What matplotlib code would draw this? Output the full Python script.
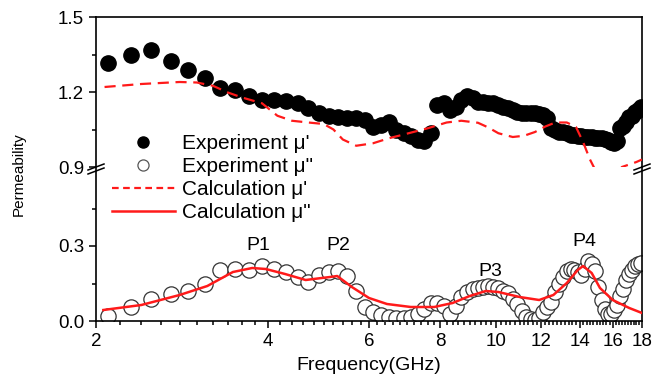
import numpy as np
import matplotlib.pyplot as plt
from matplotlib.lines import Line2D
from matplotlib.ticker import MultipleLocator, FixedLocator, NullFormatter

plt.rcParams['font.family'] = ['Liberation Sans', 'DejaVu Sans']

# measured frequency grid (GHz)
freq = np.round(np.arange(2.1, 17.95, 0.2), 2)

# experiment mu' (top panel)
mu1_exp = [1.315, 1.35, 1.37, 1.325, 1.29, 1.255, 1.215, 1.21, 1.185, 1.17,
           1.17, 1.165, 1.158, 1.138, 1.115, 1.105, 1.10, 1.096, 1.096, 1.09,
           1.06, 1.07, 1.08, 1.05, 1.035, 1.025, 1.01, 1.005, 1.035, 1.15,
           1.155, 1.13, 1.14, 1.17, 1.185, 1.175, 1.16, 1.162, 1.158, 1.155,
           1.148, 1.14, 1.135, 1.128, 1.12, 1.117, 1.115, 1.116, 1.116, 1.114,
           1.11, 1.095, 1.055, 1.048, 1.042, 1.04, 1.035, 1.03, 1.028, 1.026,
           1.024, 1.022, 1.02, 1.02, 1.018, 1.016, 1.016, 1.014, 1.008, 1.0,
           0.998, 1.005, 1.055, 1.065, 1.08, 1.1, 1.105, 1.12, 1.128, 1.14]

# experiment mu'' (bottom panel)
mu2_exp = [0.02, 0.055, 0.09, 0.108, 0.12, 0.15, 0.205, 0.21, 0.205, 0.22,
           0.208, 0.195, 0.178, 0.158, 0.185, 0.198, 0.2, 0.18, 0.12, 0.055,
           0.036, 0.026, 0.018, 0.012, 0.012, 0.016, 0.028, 0.05, 0.072, 0.072,
           0.06, 0.03, 0.06, 0.096, 0.118, 0.128, 0.134, 0.138, 0.14, 0.136,
           0.132, 0.122, 0.112, 0.09, 0.07, 0.04, 0.018, 0.008, 0.004, 0.012,
           0.036, 0.056, 0.076, 0.118, 0.15, 0.176, 0.2, 0.21, 0.205, 0.195,
           0.186, 0.21, 0.24, 0.23, 0.2, 0.136, 0.085, 0.05, 0.03, 0.03,
           0.045, 0.064, 0.1, 0.13, 0.164, 0.19, 0.205, 0.222, 0.23, 0.232]

# calculation mu'
calc1_f = [2.07, 2.4, 2.8, 3.0, 3.2, 3.4, 3.6, 3.9, 4.15, 4.4, 4.7, 5.0, 5.2,
           5.4, 5.7, 6.1, 6.5, 6.9, 7.6, 8.2, 8.7, 9.3, 9.7, 10.1, 10.7, 11.2,
           11.7, 12.2, 12.7, 13.3, 13.8, 14.2, 14.6, 14.9, 15.3, 15.8, 16.2,
           16.6, 17.2, 17.6, 18.0]
calc1 = [1.22, 1.232, 1.24, 1.238, 1.225, 1.198, 1.178, 1.155, 1.105, 1.085,
         1.078, 1.072, 1.05, 1.01, 0.985, 0.995, 1.015, 1.03, 1.055, 1.078,
         1.085, 1.077, 1.058, 1.035, 1.02, 1.025, 1.04, 1.062, 1.078, 1.078,
         1.06, 1.0, 0.93, 0.89, 0.84, 0.82, 0.86, 0.9, 0.912, 0.92, 0.93]

# calculation mu''
calc2_f = [2.06, 2.4, 2.8, 3.13, 3.47, 3.75, 3.96, 4.28, 4.65, 4.96, 5.13,
           5.28, 5.6, 6.0, 6.45, 7.1, 7.8, 8.4, 9.0, 9.6, 10.1, 11.0, 11.9,
           12.6, 13.3, 13.9, 14.2, 14.7, 15.2, 16.0, 17.1, 18.0]
calc2 = [0.044, 0.064, 0.104, 0.14, 0.196, 0.212, 0.208, 0.188, 0.164, 0.172,
         0.176, 0.18, 0.136, 0.092, 0.068, 0.056, 0.056, 0.072, 0.1, 0.12,
         0.116, 0.096, 0.084, 0.104, 0.152, 0.204, 0.22, 0.192, 0.132, 0.084,
         0.052, 0.032]

peaks = ['P1', 'P2', 'P3', 'P4']
peak_f = [3.84, 5.3, 9.77, 14.3]
peak_y = [0.30, 0.30, 0.20, 0.32]

W, H = 654, 376
fig = plt.figure(figsize=(W / 100, H / 100), dpi=100)
x0, x1 = 96 / W, 642 / W
ax_top = fig.add_axes([x0, (H - 167) / H, x1 - x0, 150 / H])
ax_bot = fig.add_axes([x0, (H - 321) / H, x1 - x0, 154 / H])

red = '#ff1a1a'
ax_top.plot(freq, mu1_exp, 'o', ms=11, color='black', zorder=2)
ax_top.plot(calc1_f, calc1, '--', color=red, lw=1.6, dashes=(5, 3), zorder=3)
ax_bot.plot(freq, mu2_exp, 'o', ms=11, mfc='white', mec='#333333', mew=0.9, zorder=2)
ax_bot.plot(calc2_f, calc2, '-', color=red, lw=1.8, zorder=3)

for name, f, y in zip(peaks, peak_f, peak_y):
    ax_bot.text(f, y, name, ha='center', va='center', fontsize=14)

minor_f = [v / 10 for v in range(20, 181, 2)]
for ax in (ax_top, ax_bot):
    ax.set_xscale('log')
    ax.set_xlim(2, 18)
    ax.xaxis.set_major_locator(FixedLocator([2, 4, 6, 8, 10, 12, 14, 16, 18]))
    ax.xaxis.set_minor_locator(FixedLocator(minor_f))
    ax.xaxis.set_minor_formatter(NullFormatter())
    ax.tick_params(which='both', direction='out', labelsize=13.5, width=1.1)
    ax.tick_params(which='major', length=5)
    ax.tick_params(which='minor', length=3)
    for s in ax.spines.values():
        s.set_linewidth(1.2)

ax_top.set_ylim(0.9, 1.5)
ax_top.yaxis.set_major_locator(MultipleLocator(0.3))
ax_top.yaxis.set_minor_locator(MultipleLocator(0.15))
ax_top.yaxis.set_major_formatter(lambda v, p: f'{v:.1f}')
ax_top.spines['bottom'].set_visible(False)
ax_top.tick_params(axis='x', which='both', bottom=False, labelbottom=False)

ax_bot.set_ylim(0, 0.616)
ax_bot.yaxis.set_major_locator(FixedLocator([0.0, 0.3]))
ax_bot.yaxis.set_minor_locator(FixedLocator([0.15, 0.45]))
ax_bot.yaxis.set_major_formatter(lambda v, p: f'{v:.1f}')
ax_bot.spines['top'].set_visible(False)
ax_bot.xaxis.set_major_formatter(lambda v, p: f'{v:g}')
ax_bot.set_xlabel('Frequency(GHz)', fontsize=14, labelpad=5)

# axis break marks
for xb in (x0, x1):
    for dy in (-3, 1):
        yb = (H - 168 + dy) / H
        fig.add_artist(Line2D([xb - 8 / W, xb + 8 / W], [yb - 3 / H, yb + 3 / H],
                              color='black', lw=1.1))

fig.text(19 / W, (H - 174) / H, 'Permeability', rotation=90, ha='center',
         va='center', fontsize=11)

handles = [
    Line2D([], [], ls='none', marker='o', ms=8, color='black'),
    Line2D([], [], ls='none', marker='o', ms=8, mfc='white', mec='#555555', mew=0.9),
    Line2D([], [], ls='--', color=red, lw=1.6, dashes=(3, 2)),
    Line2D([], [], ls='-', color=red, lw=1.8),
]
labels = ["Experiment μ'", 'Experiment μ"', "Calculation μ'", 'Calculation μ"']
fig.legend(handles, labels, loc='upper left', bbox_to_anchor=(112 / W, (H - 134) / H),
           frameon=False, fontsize=15, handlelength=3.0, handletextpad=0.35,
           labelspacing=0.2, borderpad=0, borderaxespad=0)

fig.savefig('out.png', dpi=100)
